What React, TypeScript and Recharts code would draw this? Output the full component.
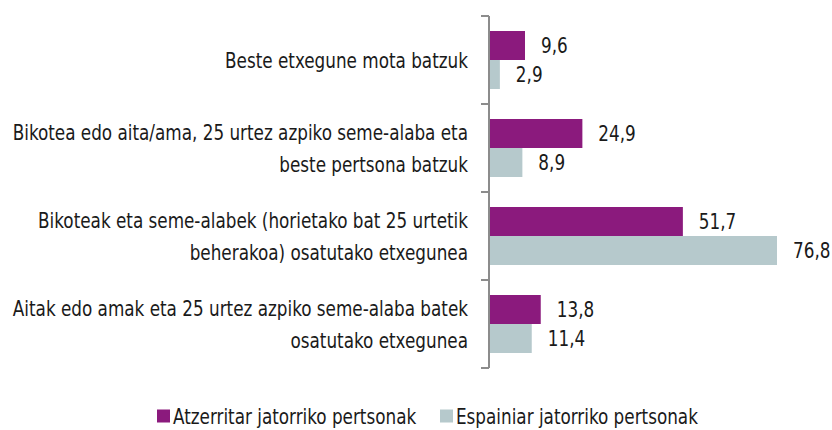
import React from "react";
import { BarChart, Bar, XAxis, YAxis, Legend, LabelList } from "recharts";

// categories (line breaks as in the original labels)
const categories = [
  "Beste etxegune mota batzuk",
  "Bikotea edo aita/ama, 25 urtez azpiko seme-alaba eta\nbeste pertsona batzuk",
  "Bikoteak eta seme-alabek (horietako bat 25 urtetik\nbeherakoa) osatutako etxegunea",
  "Aitak edo amak eta 25 urtez azpiko seme-alaba batek\nosatutako etxegunea",
];
const atzerritar = [9.6, 24.9, 51.7, 13.8];
const espainiar = [2.9, 8.9, 76.8, 11.4];
const seriesNames = ["Atzerritar jatorriko pertsonak", "Espainiar jatorriko pertsonak"];

const PURPLE = "#8b1a7d";
const GREY = "#b6c9cc";
const AXIS = "#8c8c8c";
const TEXT = "#1a1a1a";
const FONT = "'DejaVu Sans Condensed', 'DejaVu Sans', sans-serif";
const FS = 22;
const SX = 0.85; // squeeze text horizontally, the original uses a narrow face

const W = 832;
const H = 430;
const TOP = 16;
const PLOT_H = 352;
const BAND = PLOT_H / categories.length;
const TICK_SIZE = 8;
const TICK_MARGIN = 13;
const LEGEND_H = 26;

const data = categories.map((name, i) => ({
  name,
  atz: atzerritar[i],
  esp: espainiar[i],
}));

const fmt = (v: any) => Number(v).toFixed(1).replace(".", ",");
const squeeze = (x: number) => `translate(${x} 0) scale(${SX} 1) translate(${-x} 0)`;

/* category label + boundary ticks */
function CatTick({ x, y, payload }: any) {
  const lines = String(payload.value).split("\n");
  const lh = 32;
  const y0 = y - ((lines.length - 1) * lh) / 2;
  const ax = x + TICK_SIZE + TICK_MARGIN;
  return (
    <g>
      <line x1={ax - TICK_SIZE} x2={ax} y1={y - BAND / 2} y2={y - BAND / 2} stroke={AXIS} strokeWidth={2} />
      <line x1={ax - TICK_SIZE} x2={ax} y1={y + BAND / 2} y2={y + BAND / 2} stroke={AXIS} strokeWidth={2} />
      <text textAnchor="end" fontSize={FS} fill={TEXT} fontFamily={FONT} transform={squeeze(x)}>
        {lines.map((l, i) => (
          <tspan key={i} x={x} y={y0 + i * lh} dy="0.35em">
            {l}
          </tspan>
        ))}
      </text>
    </g>
  );
}

/* value label right of the bar */
function ValueLabel({ x, y, width, height, value }: any) {
  const tx = x + width + 16;
  return (
    <text
      x={tx}
      y={y + height / 2}
      dy="0.35em"
      fontSize={FS}
      fill={TEXT}
      fontFamily={FONT}
      transform={squeeze(tx)}
    >
      {fmt(value)}
    </text>
  );
}

function LegendBox() {
  const colors = [PURPLE, GREY];
  const sq = [157, 440];
  return (
    <svg width={W} height={LEGEND_H} style={{ display: "block" }}>
      {seriesNames.map((n, i) => (
        <g key={n}>
          <rect x={sq[i]} y={LEGEND_H / 2 - 6.5} width={13} height={13} fill={colors[i]} />
          <text
            x={sq[i] + 16}
            y={LEGEND_H / 2}
            dy="0.35em"
            fontSize={FS}
            fill={TEXT}
            fontFamily={FONT}
            transform={squeeze(sq[i] + 16)}
          >
            {n}
          </text>
        </g>
      ))}
    </svg>
  );
}

export default function App() {
  return (
    <div style={{ position: "absolute", left: 0, top: 0, width: W, height: H, background: "#fff" }}>
      <BarChart
        width={W}
        height={H}
        data={data}
        layout="vertical"
        margin={{ top: TOP, right: 43, left: 0, bottom: H - TOP - PLOT_H - LEGEND_H }}
        barGap={0}
        style={{ fontFamily: FONT }}
      >
        <XAxis type="number" domain={[0, 80]} hide />
        <YAxis
          type="category"
          dataKey="name"
          width={489}
          axisLine={{ stroke: AXIS, strokeWidth: 2 }}
          tickLine={false}
          tickSize={TICK_SIZE}
          tickMargin={TICK_MARGIN}
          tick={<CatTick />}
          interval={0}
        />
        <Legend
          verticalAlign="bottom"
          content={<LegendBox />}
          wrapperStyle={{ bottom: 1, left: 0, width: W, height: LEGEND_H }}
        />
        <Bar dataKey="atz" name={seriesNames[0]} fill={PURPLE} barSize={29} isAnimationActive={false}>
          <LabelList dataKey="atz" content={<ValueLabel />} />
        </Bar>
        <Bar dataKey="esp" name={seriesNames[1]} fill={GREY} barSize={29} isAnimationActive={false}>
          <LabelList dataKey="esp" content={<ValueLabel />} />
        </Bar>
      </BarChart>
    </div>
  );
}
